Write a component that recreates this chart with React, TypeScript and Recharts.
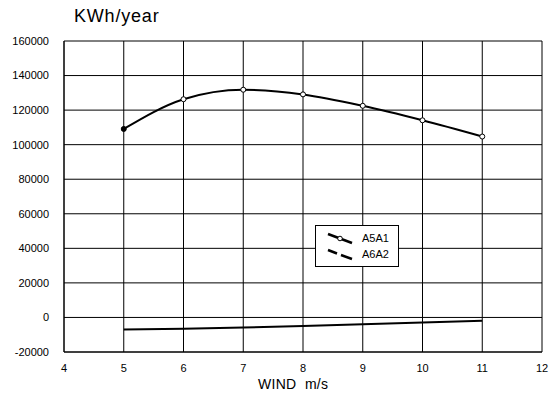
import { LineChart, Line, XAxis, YAxis, CartesianGrid, Legend } from "recharts";

const windSpeeds = [5, 6, 7, 8, 9, 10, 11];
const a5a1 = [109100, 126300, 131800, 129100, 122500, 114100, 104700];
const a6a2 = [-7000, -6500, -5800, -5000, -4000, -2900, -1900];
const xTicks = [4, 5, 6, 7, 8, 9, 10, 11, 12];
const yTicks = [-20000, 0, 20000, 40000, 60000, 80000, 100000, 120000, 140000, 160000];

const data = windSpeeds.map((w, i) => ({ wind: w, A5A1: a5a1[i], A6A2: a6a2[i] }));

const font = "'Liberation Sans', Arial, sans-serif";

function LegendBox() {
  return (
    <div
      style={{
        border: "1px solid #000",
        background: "#fff",
        width: 84,
        height: 42,
        boxSizing: "border-box",
        fontFamily: font,
        fontSize: 11,
        color: "#000",
        padding: "4px 0 0 10px",
      }}
    >
      <div style={{ display: "flex", alignItems: "center", height: 16 }}>
        <svg width={28} height={14}>
          <line x1={2} y1={3} x2={26} y2={12} stroke="#000" strokeWidth={2.5} />
          <circle cx={14} cy={7.5} r={2.3} fill="#fff" stroke="#000" strokeWidth={1} />
        </svg>
        <span style={{ marginLeft: 8 }}>A5A1</span>
      </div>
      <div style={{ display: "flex", alignItems: "center", height: 16 }}>
        <svg width={28} height={14}>
          <line x1={2} y1={3} x2={11} y2={6.5} stroke="#000" strokeWidth={2.5} />
          <line x1={15} y1={8} x2={26} y2={12} stroke="#000" strokeWidth={2.5} />
        </svg>
        <span style={{ marginLeft: 8 }}>A6A2</span>
      </div>
    </div>
  );
}

function Dot(props: any) {
  const { cx, cy, index } = props;
  if (cx == null || cy == null) return null;
  return (
    <circle
      key={index}
      cx={cx}
      cy={cy}
      r={2.5}
      fill={index === 0 ? "#000" : "#fff"}
      stroke="#000"
      strokeWidth={1}
    />
  );
}

export default function App() {
  return (
    <div style={{ position: "absolute", left: 0, top: 0, width: 552, height: 401, background: "#fff" }}>
      <div
        style={{
          position: "absolute",
          left: 74,
          top: 6,
          fontFamily: font,
          fontSize: 18,
          color: "#000",
          letterSpacing: 0.8,
        }}
      >
        KWh/year
      </div>
      <div
        style={{
          position: "absolute",
          left: 258,
          top: 376,
          fontFamily: font,
          fontSize: 14,
          color: "#000",
          letterSpacing: 0.3,
        }}
      >
        WIND&nbsp;&nbsp;m/s
      </div>
      <LineChart
        width={552}
        height={401}
        data={data}
        margin={{ top: 41, right: 10, left: 0, bottom: 19 }}
      >
        <CartesianGrid stroke="#000" strokeWidth={1} horizontalValues={yTicks} verticalValues={xTicks} />
        <XAxis
          dataKey="wind"
          type="number"
          domain={[4, 12]}
          ticks={xTicks}
          height={30}
          tickLine={false}
          axisLine={{ stroke: "#000" }}
          tick={{ fill: "#000", fontSize: 11, fontFamily: font }}
          tickMargin={6}
        />
        <YAxis
          type="number"
          domain={[-20000, 160000]}
          ticks={yTicks}
          width={64}
          tickLine={false}
          axisLine={{ stroke: "#000" }}
          tick={{ fill: "#000", fontSize: 11, fontFamily: font }}
          tickMargin={9}
        />
        <Legend
          layout="horizontal"
          verticalAlign="middle"
          align="center"
          wrapperStyle={{ position: "absolute", left: 315, top: 225, width: 84 }}
          content={() => <LegendBox />}
        />
        <Line
          type="monotone"
          dataKey="A5A1"
          stroke="#000"
          strokeWidth={2}
          dot={<Dot />}
          isAnimationActive={false}
        />
        <Line
          type="linear"
          dataKey="A6A2"
          stroke="#000"
          strokeWidth={2}
          dot={false}
          isAnimationActive={false}
        />
      </LineChart>
    </div>
  );
}
